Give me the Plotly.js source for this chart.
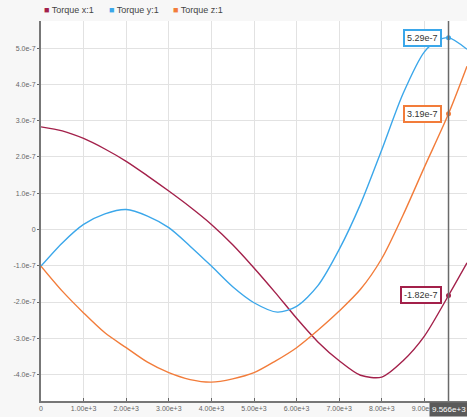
<!DOCTYPE html>
<html>
<head>
<meta charset="utf-8">
<script src="https://cdn.plot.ly/plotly-3.0.1.min.js"></script>
<style>
  html, body { margin: 0; padding: 0; background: #f7f7f7; }
  #chart { width: 467px; height: 417px; }
</style>
</head>
<body>
<div id="chart"></div>
<script>
// Sample times (s) and torque components (N·m)
const timeX = [0, 500, 1000, 1500, 2000, 2500, 3000, 3500, 4000, 4500, 5000, 5500, 6000, 6500, 7000, 7500, 8000, 8500, 9000, 9566, 10000];
const torqueX = [2.83e-7, 2.72e-7, 2.51e-7, 2.22e-7, 1.88e-7, 1.48e-7, 1.06e-7, 0.62e-7, 0.14e-7, -0.42e-7, -1.06e-7, -1.74e-7, -2.45e-7, -3.1e-7, -3.62e-7, -4.02e-7, -4.07e-7, -3.62e-7, -2.94e-7, -1.82e-7, -0.92e-7];

const timeY = [0, 500, 1000, 1500, 2000, 2500, 3000, 3500, 4000, 4500, 5000, 5550, 6000, 6500, 7000, 7500, 8000, 8500, 9000, 9300, 9566, 10000];
const torqueY = [-1.01e-7, -0.37e-7, 0.14e-7, 0.43e-7, 0.55e-7, 0.37e-7, 0.05e-7, -0.46e-7, -1.01e-7, -1.58e-7, -2.02e-7, -2.28e-7, -2.12e-7, -1.55e-7, -0.55e-7, 0.7e-7, 2.2e-7, 3.75e-7, 4.9e-7, 5.2e-7, 5.29e-7, 4.97e-7];

const timeZ = [0, 500, 1000, 1500, 2000, 2500, 3000, 3500, 4000, 4500, 5000, 5500, 6000, 6500, 7000, 7500, 8000, 8500, 9000, 9566, 10000];
const torqueZ = [-1.01e-7, -1.70e-7, -2.30e-7, -2.85e-7, -3.26e-7, -3.66e-7, -3.95e-7, -4.14e-7, -4.21e-7, -4.12e-7, -3.95e-7, -3.63e-7, -3.26e-7, -2.78e-7, -2.25e-7, -1.65e-7, -0.8e-7, 0.4e-7, 1.72e-7, 3.19e-7, 4.5e-7];

const seriesNames = ['Torque x:1', 'Torque y:1', 'Torque z:1'];
const seriesColors = ['#a3204a', '#3ba7ea', '#f27c3a'];

// Cursor position
const cursorTime = 9566;
const cursorLabel = '9.566e+3';

// Axis ticks
const xTickVals = [0, 1000, 2000, 3000, 4000, 5000, 6000, 7000, 8000, 9000];
const xTickText = ['0', '1.00e+3', '2.00e+3', '3.00e+3', '4.00e+3', '5.00e+3', '6.00e+3', '7.00e+3', '8.00e+3', '9.00e+3'];
const yTickVals = [5e-7, 4e-7, 3e-7, 2e-7, 1e-7, 0, -1e-7, -2e-7, -3e-7, -4e-7];
const yTickText = ['5.0e-7', '4.0e-7', '3.0e-7', '2.0e-7', '1.0e-7', '0', '-1.0e-7', '-2.0e-7', '-3.0e-7', '-4.0e-7'];

const xs = [timeX, timeY, timeZ];
const ys = [torqueX, torqueY, torqueZ];

const W = 467, H = 417;
const margin = { l: 41, r: 0, t: 21, b: 16, pad: 0 };
const pw = W - margin.l - margin.r, ph = H - margin.t - margin.b;

const traces = [];
const annotations = [];

xs.forEach((tx, i) => {
  traces.push({
    x: tx, y: ys[i], type: 'scatter', mode: 'lines',
    line: { color: seriesColors[i], width: 1.4, shape: 'spline', smoothing: 0.8 },
    name: seriesNames[i], showlegend: false, hoverinfo: 'skip'
  });
  // value at the cursor
  const k = tx.indexOf(cursorTime);
  const v = ys[i][k];
  traces.push({
    x: [cursorTime], y: [v], type: 'scatter', mode: 'markers',
    marker: { color: seriesColors[i], size: 5 },
    showlegend: false, hoverinfo: 'skip'
  });
  annotations.push({
    x: cursorTime, y: v, xref: 'x', yref: 'y',
    text: v.toExponential(2),
    showarrow: false, xanchor: 'right', yanchor: 'middle', xshift: -7,
    bgcolor: '#ffffff', bordercolor: seriesColors[i], borderwidth: 2, borderpad: 2,
    font: { family: 'Liberation Sans, Arial, sans-serif', size: 9, color: '#333' }
  });
  // legend entry (pixel position converted to paper units)
  annotations.push({
    x: (42 + i * 64.5 - margin.l) / pw, y: (H - margin.b - 10.5) / ph,
    xref: 'paper', yref: 'paper',
    text: '<span style="color:' + seriesColors[i] + '">■</span> ' + seriesNames[i],
    showarrow: false, xanchor: 'left', yanchor: 'middle',
    font: { family: 'Liberation Sans, Arial, sans-serif', size: 9, color: '#444' }
  });
});

// cursor value label at the bottom
annotations.push({
  x: cursorTime, y: 0, xref: 'x', yref: 'paper',
  text: cursorLabel, showarrow: false, xanchor: 'center', yanchor: 'top',
  yshift: -1, bgcolor: '#5a5a5a', borderpad: 2,
  font: { family: 'Liberation Sans, Arial, sans-serif', size: 8, color: '#ffffff' }
});

const axisFont = { family: 'Liberation Sans, Arial, sans-serif', size: 7, color: '#666' };

const layout = {
  width: W, height: H,
  margin: margin,
  paper_bgcolor: '#f7f7f7',
  plot_bgcolor: '#ffffff',
  showlegend: false,
  xaxis: {
    range: [0, 10000], tickvals: xTickVals, ticktext: xTickText,
    showgrid: true, gridcolor: '#e2e2e2', gridwidth: 1,
    zeroline: false, showline: true, linecolor: '#777', linewidth: 2,
    ticks: 'inside', ticklen: 3, tickcolor: '#666', tickfont: axisFont,
    automargin: false, fixedrange: true
  },
  yaxis: {
    range: [-4.73e-7, 5.75e-7], tickvals: yTickVals, ticktext: yTickText,
    showgrid: true, gridcolor: '#e2e2e2', gridwidth: 1,
    zeroline: false, showline: true, linecolor: '#777', linewidth: 2,
    ticks: 'outside', ticklen: 2, tickcolor: '#666', tickfont: axisFont,
    automargin: false, fixedrange: true
  },
  shapes: [{
    type: 'line', xref: 'x', yref: 'paper',
    x0: cursorTime, x1: cursorTime, y0: 0, y1: 1,
    line: { color: '#6a6a6a', width: 1.5 }
  }],
  annotations: annotations
};

Plotly.newPlot('chart', traces, layout, { displayModeBar: false, staticPlot: true });
</script>
</body>
</html>
